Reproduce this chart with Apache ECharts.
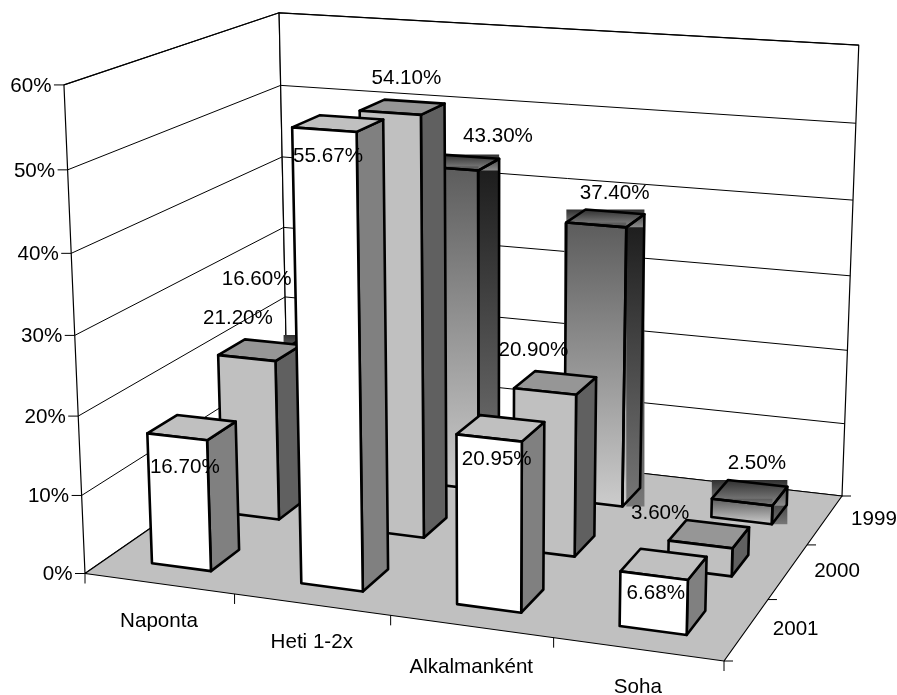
<!DOCTYPE html>
<html>
<head>
<meta charset="utf-8">
<style>html,body{margin:0;padding:0;background:#fff}#c{width:897px;height:695px}</style>
<script src="https://cdn.jsdelivr.net/npm/echarts@6/dist/echarts.min.js"></script>
</head>
<body>
<div id="c"></div>
<script>
const categories = ['Naponta', 'Heti 1-2x', 'Alkalmanként', 'Soha'];
const years = ['1999', '2000', '2001'];
const values1999 = [16.60, 43.30, 37.40, 2.50];
const values2000 = [21.20, 54.10, 20.90, 3.60];
const values2001 = [16.70, 55.67, 20.95, 6.68];
const valueTicks = [0, 10, 20, 30, 40, 50, 60];

// Label offsets from each bar's top-centre, in pixels
const labelNudge = {
  '1999': [[-66,-66],[38,-26],[9,-25],[7,-29]],
  '2000': [[-22,-32],[4,-29],[-22,-32],[-49,-21]],
  '2001': [[-7,40],[-10,33],[-4,31],[-8,29]]
};
const catLabelDy = [37, 37, 40, 37];

// Projection of the unit box (x: left→right, z: front→back, y: up) onto the page
const cFL = [85, 573.5], cFR = [724, 661], cBR = [842, 496], cBL = [288, 433];
const tFL = [65, 86], tBL = [278, 12], tBR = [859, 45];

function solve3(M, r) {
  const A = M.map((row, i) => row.concat(r[i]));
  for (let i = 0; i < 3; i++) {
    let p = i;
    for (let k = i + 1; k < 3; k++) if (Math.abs(A[k][i]) > Math.abs(A[p][i])) p = k;
    [A[i], A[p]] = [A[p], A[i]];
    for (let k = 0; k < 3; k++) {
      if (k === i) continue;
      const f = A[k][i] / A[i][i];
      for (let j = i; j < 4; j++) A[k][j] -= f * A[i][j];
    }
  }
  return [A[0][3] / A[0][0], A[1][3] / A[1][1], A[2][3] / A[2][2]];
}
const H = (function () {
  const [x0, y0] = cFL, [x1, y1] = cFR, [x2, y2] = cBR, [x3, y3] = cBL;
  const dx1 = x1 - x2, dx2 = x3 - x2, sx = x0 - x1 + x2 - x3;
  const dy1 = y1 - y2, dy2 = y3 - y2, sy = y0 - y1 + y2 - y3;
  const den = dx1 * dy2 - dx2 * dy1;
  const g = (sx * dy2 - dx2 * sy) / den, h = (dx1 * sy - sx * dy1) / den;
  const m = [
    [x1 - x0 + g * x1, x3 - x0 + h * x3, x0],
    [y1 - y0 + g * y1, y3 - y0 + h * y3, y0],
    [g, h, 1]
  ];
  const pts = [[0, 0, tFL], [0, 1, tBL], [1, 1, tBR]];
  const rows = [], rhs = [];
  pts.forEach(([x, z, t]) => {
    const X = m[0][0] * x + m[0][1] * z + m[0][2];
    const Y = m[1][0] * x + m[1][1] * z + m[1][2];
    const W = m[2][0] * x + m[2][1] * z + m[2][2];
    rows.push([1, 0, -t[0]]); rhs.push(t[0] * W - X);
    rows.push([0, 1, -t[1]]); rhs.push(t[1] * W - Y);
  });
  const N = [[0,0,0],[0,0,0],[0,0,0]], b = [0,0,0];
  rows.forEach((r, k) => {
    for (let i = 0; i < 3; i++) {
      b[i] += r[i] * rhs[k];
      for (let j = 0; j < 3; j++) N[i][j] += r[i] * r[j];
    }
  });
  const col = solve3(N, b);
  return { m, col };
})();
function P(x, z, y) {
  const m = H.m, c = H.col;
  const X = m[0][0] * x + m[0][1] * z + m[0][2] + c[0] * y;
  const Y = m[1][0] * x + m[1][1] * z + m[1][2] + c[1] * y;
  const W = m[2][0] * x + m[2][1] * z + m[2][2] + c[2] * y;
  return [X / W, Y / W];
}

// Axis scales → unit-box fractions
function frac(api, params, cat, val) {
  const r = params.coordSys;
  const p = api.coord([cat, val]);
  return [(p[0] - r.x) / r.width, 1 - (p[1] - r.y) / r.height];
}
function poly(points, style, z2) {
  return { type: 'polygon', z2: z2 || 0, shape: { points },
    style: Object.assign({ lineJoin: 'round' }, style), silent: true };
}
function line(a, b, w, z2) {
  return { type: 'line', z2: z2 || 0, silent: true,
    shape: { x1: a[0], y1: a[1], x2: b[0], y2: b[1] },
    style: { stroke: '#000', lineWidth: w || 1 } };
}
function text(str, x, y, align, z2) {
  return { type: 'text', z2: z2 || 50, silent: true,
    style: { x, y: y + 1, text: str, fill: '#000', align: align || 'center', verticalAlign: 'middle',
      font: '20.6px "Liberation Sans", Arial, sans-serif' } };
}
const vg = (a, b) => new echarts.graphic.LinearGradient(0, 0, 0, 1, [
  { offset: 0, color: a }, { offset: 1, color: b }]);

function bbox(pts) {
  const xs = pts.map(p => p[0]), ys = pts.map(p => p[1]);
  const x = Math.min(...xs), y = Math.min(...ys);
  return { x, y, width: Math.max(...xs) - x, height: Math.max(...ys) - y };
}

const looks = {
  '2001': { front: '#ffffff', top: '#c0c0c0', side: '#808080' },
  '2000': { front: '#c0c0c0', top: '#969696', side: '#606060' },
  '1999': { grad: true }
};

function renderFrame(params, api) {
  const ch = [];
  // walls and floor
  ch.push(poly([P(0,0,0), P(0,0,1), P(0,1,1), P(0,1,0)], { fill: '#fff', stroke: '#000', lineWidth: 1.2 }));
  ch.push(poly([P(0,1,0), P(0,1,1), P(1,1,1), P(1,1,0)], { fill: '#fff', stroke: '#000', lineWidth: 1.2 }));
  ch.push(poly([P(0,0,0), P(1,0,0), P(1,1,0), P(0,1,0)], { fill: '#c0c0c0', stroke: '#000', lineWidth: 1.2 }));
  // value ticks and gridlines
  valueTicks.forEach(v => {
    const y = frac(api, params, 0, v)[1];
    const a = P(0,0,y), b = P(0,1,y), c = P(1,1,y);
    if (v > 0) { ch.push(line(a, b, 1)); ch.push(line(b, c, 1)); }
    ch.push(line([a[0] - 10, a[1]], a, 1));
    ch.push(text(v + '%', a[0] - 12.5, a[1], 'right'));
  });
  // category ticks and labels
  categories.forEach((c, i) => {
    const xa = frac(api, params, i, 0)[0];
    const step = 1 / categories.length;
    const t = P(xa - step / 2, 0, 0);
    ch.push(line(t, [t[0], t[1] + 10], 1));
    const m = P(xa, 0, 0);
    ch.push(text(c, m[0], m[1] + catLabelDy[i]));
  });
  const e = P(1, 0, 0);
  ch.push(line(e, [e[0], e[1] + 10], 1));
  // depth ticks and labels
  years.forEach((yr, i) => {
    const z0 = (years.length - 1 - i) / years.length;
    const t = P(1, z0, 0);
    ch.push(line(t, [t[0] + 9, t[1]], 1));
    const m = P(1, z0 + 0.5 / years.length, 0);
    ch.push(text(yr, m[0] + 49, m[1] - 1));
  });
  const e2 = P(1, 1, 0);
  ch.push(line(e2, [e2[0] + 9, e2[1]], 1));
  return { type: 'group', children: ch };
}

const barShare = 0.4;
function makeBarRenderer(yearIdx) {
  return function (params, api) {
    const cat = api.value(0), val = api.value(1);
    const [xc, y] = frac(api, params, cat, val);
    const step = 1 / categories.length, dstep = 1 / years.length;
    const zc = (years.length - 1 - yearIdx + 0.5) * dstep;
    const x0 = xc - step * barShare / 2, x1 = xc + step * barShare / 2;
    const z0 = zc - dstep * barShare / 2, z1 = zc + dstep * barShare / 2;
    const fr = [P(x0,z0,0), P(x1,z0,0), P(x1,z0,y), P(x0,z0,y)];
    const tp = [P(x0,z0,y), P(x1,z0,y), P(x1,z1,y), P(x0,z1,y)];
    const sd = [P(x1,z0,0), P(x1,z1,0), P(x1,z1,y), P(x1,z0,y)];
    const look = looks[years[yearIdx]];
    const stroke = { fill: 'none', stroke: '#000', lineWidth: 2.6 };
    const ch = [];
    if (look.grad) {
      ch.push({ type: 'rect', z2: 1, silent: true, shape: bbox(sd), style: { fill: vg('#1a1a1a', '#777777') } });
      ch.push({ type: 'rect', z2: 2, silent: true, shape: bbox(tp), style: { fill: vg('#303030', '#8c8c8c') } });
      ch.push({ type: 'rect', z2: 3, silent: true, shape: bbox(fr), style: { fill: vg('#5c5c5c', '#cccccc') } });
      ch.push(poly(sd, stroke, 4), poly(tp, stroke, 4), poly(fr, stroke, 4));
    } else {
      ch.push(poly(sd, Object.assign({}, stroke, { fill: look.side }), 1));
      ch.push(poly(tp, Object.assign({}, stroke, { fill: look.top }), 2));
      ch.push(poly(fr, Object.assign({}, stroke, { fill: look.front }), 3));
    }
    return { type: 'group', children: ch };
  };
}

function renderLabel(params, api) {
  const yearIdx = api.value(2), cat = api.value(0), val = api.value(1);
  const [xc, y] = frac(api, params, cat, val);
  const zc = (years.length - 1 - yearIdx + 0.5) / years.length;
  const p = P(xc, zc, y);
  const n = labelNudge[years[yearIdx]][cat];
  return text(val.toFixed(2) + '%', p[0] + n[0], p[1] + n[1] - 1);
}

const seriesValues = [values1999, values2000, values2001];
const labelData = [];
seriesValues.forEach((vals, yi) => vals.forEach((v, c) => labelData.push([c, v, yi])));

const chart = echarts.init(document.getElementById('c'), null, { renderer: 'canvas' });
chart.setOption({
  animation: false,
  backgroundColor: '#fff',
  grid: { left: 100, right: 100, top: 100, bottom: 100 },
  xAxis: { type: 'category', data: categories, show: false },
  yAxis: { type: 'value', min: 0, max: 60, interval: 10, show: false },
  series: [
    { type: 'custom', name: 'frame', coordinateSystem: 'cartesian2d', z: 1, data: [[0, 0]],
      renderItem: renderFrame, silent: true, clip: false },
    ...seriesValues.map((vals, yi) => ({
      type: 'custom', name: years[yi], coordinateSystem: 'cartesian2d', z: 2 + yi,
      data: vals.map((v, c) => [c, v]), renderItem: makeBarRenderer(yi), silent: true, clip: false
    })),
    { type: 'custom', name: 'labels', coordinateSystem: 'cartesian2d', z: 20,
      data: labelData, renderItem: renderLabel, silent: true, clip: false }
  ]
});
</script>
</body>
</html>
